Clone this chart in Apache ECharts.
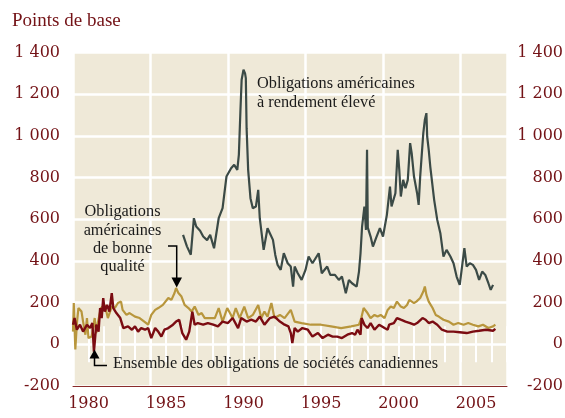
<!DOCTYPE html>
<html>
<head>
<meta charset="utf-8">
<script src="https://cdn.jsdelivr.net/npm/echarts@6/dist/echarts.min.js"></script>
<style>
  html, body { margin: 0; padding: 0; background: #fff; }
  #chart { width: 565px; height: 418px; }
</style>
</head>
<body>
<div id="chart"></div>
<script>
// [année, points de base]
const highYield = [
  [1987.1, 525], [1987.35, 470], [1987.6, 430], [1987.8, 605], [1987.95, 565], [1988.2, 545],
  [1988.4, 517], [1988.65, 500], [1988.85, 525], [1989.1, 461], [1989.4, 605], [1989.65, 653],
  [1989.9, 805], [1990.2, 845], [1990.4, 861], [1990.6, 837], [1990.7, 909], [1990.8, 1117],
  [1990.88, 1269], [1991.0, 1317], [1991.1, 1300], [1991.15, 1277], [1991.2, 1037], [1991.3, 837],
  [1991.45, 701], [1991.6, 653], [1991.8, 661], [1991.95, 741], [1992.05, 605], [1992.3, 453],
  [1992.55, 557], [1992.7, 533], [1992.9, 501], [1993.05, 429], [1993.2, 381], [1993.4, 357],
  [1993.6, 437], [1993.85, 389], [1994.05, 373], [1994.2, 277], [1994.3, 373], [1994.5, 341],
  [1994.75, 309], [1995.0, 357], [1995.2, 421], [1995.45, 389], [1995.65, 413], [1995.85, 437],
  [1996.05, 341], [1996.4, 373], [1996.6, 333], [1996.9, 333], [1997.15, 309], [1997.35, 325],
  [1997.6, 245], [1997.8, 309], [1998.0, 293], [1998.3, 277], [1998.45, 349], [1998.55, 437],
  [1998.65, 565], [1998.8, 661], [1998.9, 549], [1998.97, 933], [1999.02, 560], [1999.2, 517],
  [1999.35, 469], [1999.55, 509], [1999.8, 557], [2000.0, 517], [2000.25, 621], [2000.45, 757],
  [2000.55, 661], [2000.8, 725], [2000.95, 933], [2001.05, 837], [2001.15, 709], [2001.3, 789],
  [2001.45, 749], [2001.6, 789], [2001.75, 965], [2001.85, 917], [2002.0, 805], [2002.2, 725],
  [2002.3, 669], [2002.4, 805], [2002.6, 1013], [2002.7, 1077], [2002.8, 1109], [2002.85, 997],
  [2002.95, 933], [2003.05, 853], [2003.3, 693], [2003.5, 597], [2003.7, 533], [2003.9, 421],
  [2004.1, 453], [2004.35, 421], [2004.55, 389], [2004.75, 325], [2004.95, 285], [2005.1, 373],
  [2005.25, 461], [2005.4, 373], [2005.6, 389], [2005.8, 381], [2006.0, 357], [2006.2, 309],
  [2006.4, 349], [2006.6, 333], [2006.8, 293], [2006.95, 261], [2007.1, 285]
];

const investmentGrade = [
  [1980.0, 61], [1980.05, 198], [1980.15, -25], [1980.25, 100], [1980.35, 174], [1980.55, 157],
  [1980.65, 109], [1980.8, 46], [1980.9, 126], [1981.0, 30], [1981.2, 37], [1981.4, 126],
  [1981.5, 54], [1981.6, 102], [1981.8, 174], [1982.05, 189], [1982.25, 126], [1982.5, 181],
  [1982.7, 174], [1982.9, 198], [1983.1, 205], [1983.2, 165], [1983.45, 141], [1983.65, 150],
  [1984.0, 133], [1984.3, 126], [1984.6, 109], [1984.85, 94], [1985.05, 141], [1985.3, 165],
  [1985.5, 174], [1985.8, 189], [1986.15, 222], [1986.35, 213], [1986.55, 246], [1986.65, 270],
  [1986.8, 246], [1987.0, 229], [1987.2, 189], [1987.45, 174], [1987.65, 157], [1987.85, 181],
  [1988.1, 141], [1988.3, 150], [1988.5, 126], [1988.85, 126], [1989.15, 126], [1989.4, 174],
  [1989.65, 109], [1989.95, 174], [1990.3, 126], [1990.5, 174], [1990.75, 126], [1991.05, 181],
  [1991.3, 126], [1991.6, 141], [1991.95, 189], [1992.15, 126], [1992.35, 157], [1992.55, 133],
  [1992.8, 198], [1993.0, 126], [1993.35, 141], [1993.65, 126], [1994.05, 165], [1994.3, 109],
  [1994.75, 102], [1995.35, 94], [1996.0, 94], [1996.65, 86], [1997.3, 78], [1997.95, 86],
  [1998.45, 94], [1998.6, 126], [1998.75, 174], [1999.0, 150], [1999.2, 126], [1999.45, 141],
  [1999.65, 133], [1999.85, 141], [2000.1, 126], [2000.3, 165], [2000.5, 181], [2000.7, 174],
  [2000.9, 205], [2001.15, 181], [2001.35, 174], [2001.55, 189], [2001.7, 213], [2002.0, 198],
  [2002.15, 205], [2002.4, 222], [2002.6, 253], [2002.7, 277], [2002.8, 237], [2002.95, 205],
  [2003.2, 174], [2003.4, 141], [2003.6, 133], [2003.9, 118], [2004.25, 109], [2004.55, 94],
  [2004.85, 102], [2005.2, 94], [2005.5, 102], [2005.8, 94], [2006.15, 86], [2006.45, 94],
  [2006.8, 78], [2007.1, 86], [2007.25, 94]
];

const canadian = [
  [1980.0, 94], [1980.1, 126], [1980.25, 70], [1980.45, 94], [1980.65, 61], [1980.9, 94],
  [1981.1, 78], [1981.25, 102], [1981.35, -35], [1981.5, 94], [1981.65, 61], [1981.75, 174],
  [1981.85, 126], [1981.95, 222], [1982.05, 157], [1982.2, 189], [1982.35, 157], [1982.5, 246],
  [1982.6, 174], [1982.8, 150], [1983.05, 126], [1983.25, 78], [1983.55, 86], [1983.8, 70],
  [1984.0, 86], [1984.2, 61], [1984.4, 78], [1984.65, 70], [1984.85, 78], [1985.05, 30],
  [1985.3, 78], [1985.5, 61], [1985.7, 37], [1985.9, 70], [1986.15, 78], [1986.45, 94],
  [1986.65, 109], [1986.85, 118], [1987.05, 54], [1987.3, 22], [1987.5, 61], [1987.7, 157],
  [1987.85, 94], [1988.05, 102], [1988.4, 94], [1988.7, 102], [1989.05, 94], [1989.35, 86],
  [1989.65, 109], [1990.0, 102], [1990.3, 126], [1990.65, 78], [1990.85, 126], [1991.2, 109],
  [1991.5, 118], [1991.8, 109], [1992.05, 133], [1992.35, 94], [1992.7, 126], [1993.0, 133],
  [1993.35, 109], [1993.65, 94], [1993.9, 86], [1994.05, 54], [1994.15, 6], [1994.3, 78],
  [1994.5, 61], [1994.8, 78], [1995.15, 70], [1995.45, 37], [1995.8, 54], [1996.1, 30],
  [1996.45, 46], [1996.75, 37], [1997.05, 37], [1997.35, 30], [1997.7, 46], [1998.0, 54],
  [1998.2, 46], [1998.35, 70], [1998.55, 46], [1998.62, 126], [1998.8, 94], [1999.0, 78],
  [1999.2, 102], [1999.45, 70], [1999.75, 94], [2000.1, 78], [2000.3, 70], [2000.4, 94],
  [2000.7, 102], [2000.9, 126], [2001.15, 118], [2001.45, 109], [2001.75, 102], [2002.0, 94],
  [2002.2, 102], [2002.55, 126], [2002.75, 118], [2002.95, 102], [2003.2, 109], [2003.5, 94],
  [2003.8, 70], [2004.15, 61], [2004.55, 61], [2004.95, 58], [2005.4, 54], [2005.8, 61],
  [2006.2, 65], [2006.65, 70], [2007.1, 65], [2007.25, 74]
];

const yearMin = 1980;
const yearMax = 2008;
const yMin = -200;
const yMax = 1400;

const labelRed = '#731216';
const axisFont = 'DejaVu Serif';
const textFont = '16.3px "Liberation Serif"';

// 1 400, 1 200 ... -200
function fmtBp(v) {
  if (Math.abs(v) >= 1000) {
    const s = String(Math.abs(v) % 1000).padStart(3, '0');
    return (v < 0 ? '-' : '') + Math.floor(Math.abs(v) / 1000) + ' ' + s;
  }
  return String(v);
}

const chart = echarts.init(document.getElementById('chart'));

chart.setOption({
  animation: false,
  grid: {
    left: 73,
    right: 58,
    top: 52.5,
    bottom: 32,
    show: true,
    backgroundColor: '#efe9d8',
    borderWidth: 0,
    outerBoundsMode: 'none'
  },
  xAxis: [
    {
      // ticks annuels en bas + étiquettes
      type: 'value',
      position: 'bottom',
      min: yearMin,
      max: yearMax,
      interval: 1,
      axisLine: { show: false },
      axisTick: { show: true, inside: true, length: 18, lineStyle: { color: '#fff', width: 2 } },
      splitLine: { show: false },
      axisLabel: {
        margin: 10,
        color: labelRed,
        fontFamily: axisFont,
        fontSize: 16,
        formatter: v => ((v - 1) % 5 === 0 ? String(v - 1) : '')
      }
    },
    {
      // ticks annuels en haut
      type: 'value',
      position: 'top',
      min: yearMin,
      max: yearMax,
      interval: 1,
      axisLine: { show: false },
      axisTick: { show: true, inside: true, length: 18, lineStyle: { color: '#fff', width: 2 } },
      splitLine: { show: false },
      axisLabel: { show: false }
    },
    {
      // lignes verticales tous les 5 ans + ligne du zéro
      type: 'value',
      position: 'bottom',
      min: yearMin,
      max: yearMax,
      interval: 5,
      axisLine: { show: true, onZero: true, lineStyle: { color: '#8a2b2b', width: 1 } },
      axisTick: { show: false },
      axisLabel: { show: false },
      splitLine: { show: true, lineStyle: { color: '#fff', width: 2.5 } }
    }
  ],
  yAxis: [
    {
      type: 'value',
      position: 'left',
      min: yMin,
      max: yMax,
      interval: 200,
      axisLine: { show: false },
      axisTick: { show: false },
      splitLine: { show: true, lineStyle: { color: '#fff', width: 2.5 } },
      axisLabel: {
        margin: 13,
        color: labelRed,
        fontFamily: axisFont,
        fontSize: 16,
        formatter: fmtBp
      }
    },
    {
      type: 'value',
      position: 'right',
      min: yMin,
      max: yMax,
      interval: 200,
      axisLine: { show: false },
      axisTick: { show: false },
      splitLine: { show: false },
      axisLabel: {
        margin: 56,
        align: 'right',
        color: labelRed,
        fontFamily: axisFont,
        fontSize: 16,
        formatter: fmtBp
      }
    }
  ],
  series: [
    {
      name: 'Obligations américaines de bonne qualité',
      type: 'line',
      xAxisIndex: 0,
      yAxisIndex: 0,
      data: investmentGrade,
      showSymbol: false,
      lineStyle: { color: '#b8963c', width: 2.2 }
    },
    {
      name: 'Ensemble des obligations de sociétés canadiennes',
      type: 'line',
      xAxisIndex: 0,
      yAxisIndex: 0,
      data: canadian,
      showSymbol: false,
      lineStyle: { color: '#7b0c12', width: 2.4 }
    },
    {
      name: 'Obligations américaines à rendement élevé',
      type: 'line',
      xAxisIndex: 0,
      yAxisIndex: 0,
      data: highYield,
      showSymbol: false,
      lineStyle: { color: '#3b4a46', width: 2.2 }
    }
  ],
  graphic: [
    {
      type: 'text', left: 12, top: 12, z: 100,
      style: { text: 'Points de base', fill: labelRed, font: '19px "Liberation Serif"' }
    },
    {
      type: 'text', x: 257, y: 84, z: 100,
      style: { text: 'Obligations américaines', fill: '#1a1a1a', font: textFont, verticalAlign: 'middle' }
    },
    {
      type: 'text', x: 257, y: 102.5, z: 100,
      style: { text: 'à rendement élevé', fill: '#1a1a1a', font: textFont, verticalAlign: 'middle' }
    },
    {
      type: 'text', x: 122.5, y: 211.5, z: 100,
      style: { text: 'Obligations', fill: '#1a1a1a', font: textFont, align: 'center', verticalAlign: 'middle' }
    },
    {
      type: 'text', x: 122.5, y: 230.5, z: 100,
      style: { text: 'américaines', fill: '#1a1a1a', font: textFont, align: 'center', verticalAlign: 'middle' }
    },
    {
      type: 'text', x: 122.5, y: 248.5, z: 100,
      style: { text: 'de bonne', fill: '#1a1a1a', font: textFont, align: 'center', verticalAlign: 'middle' }
    },
    {
      type: 'text', x: 122.5, y: 267, z: 100,
      style: { text: 'qualité', fill: '#1a1a1a', font: textFont, align: 'center', verticalAlign: 'middle' }
    },
    {
      type: 'text', x: 113, y: 363.5, z: 100,
      style: { text: 'Ensemble des obligations de sociétés canadiennes', fill: '#1a1a1a', font: textFont, verticalAlign: 'middle' }
    },
    // flèche vers la bonne qualité
    {
      type: 'polyline', z: 100,
      shape: { points: [[168, 246], [176.7, 246], [176.7, 279]] },
      style: { stroke: '#000', lineWidth: 1.5, fill: null }
    },
    {
      type: 'polygon', z: 100,
      shape: { points: [[171.5, 277.5], [182, 277.5], [176.7, 287.5]] },
      style: { fill: '#000' }
    },
    // flèche vers les obligations canadiennes
    {
      type: 'polyline', z: 100,
      shape: { points: [[107, 365.5], [94.5, 365.5], [94.5, 357]] },
      style: { stroke: '#000', lineWidth: 1.5, fill: null }
    },
    {
      type: 'polygon', z: 100,
      shape: { points: [[89.5, 358.5], [99.5, 358.5], [94.5, 349.5]] },
      style: { fill: '#000' }
    }
  ]
});
</script>
</body>
</html>
